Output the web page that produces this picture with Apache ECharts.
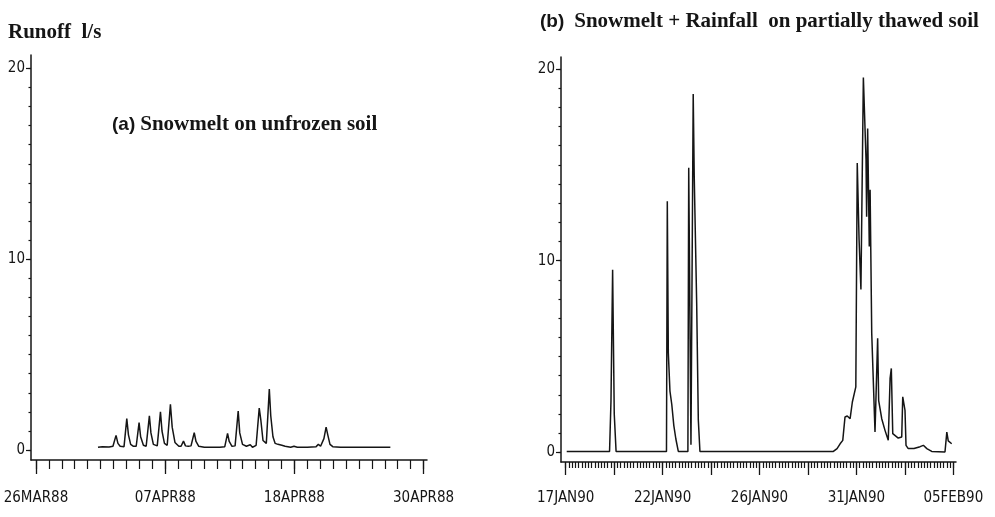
<!DOCTYPE html>
<html><head><meta charset="utf-8">
<script src="https://cdn.jsdelivr.net/npm/echarts@6/dist/echarts.min.js"></script>
<style>html,body{margin:0;padding:0;background:#fff}#c{width:995px;height:517px}</style>
</head><body><div id="c"></div>
<script>
// ---------- Panel (a): Snowmelt on unfrozen soil (days since 26 MAR 1988) ----------
const aTickLabels = ['26MAR88', '07APR88', '18APR88', '30APR88'];
const aTickDays = [0, 35 / 3, 70 / 3, 35];
const aDays = [5.6, 6.0, 6.6, 6.95, 7.23, 7.4, 7.6, 7.95, 8.2, 8.35, 8.55, 8.8, 9.05, 9.31, 9.45, 9.7, 9.95,
  10.24, 10.38, 10.6, 10.95, 11.24, 11.38, 11.6, 11.85, 12.14, 12.3, 12.55, 12.9, 13.1, 13.32, 13.5, 13.75,
  14.0, 14.29, 14.45, 14.7, 15.2, 16.0, 16.3, 16.43, 16.6, 17.05, 17.3, 17.45, 17.7, 17.98, 18.26, 18.4,
  18.65, 19.0, 19.35, 19.55, 19.88, 20.16, 20.3, 20.5, 20.8, 21.07, 21.2, 21.4, 21.6, 21.85, 22.0, 22.2,
  22.5, 23.0, 23.3, 23.6, 24.5, 25.3, 25.5, 25.7, 26.0, 26.2, 26.35, 26.55, 26.8, 27.5, 29.0, 30.5, 32.0];
const aRunoff = [0.15, 0.18, 0.16, 0.2, 0.77, 0.35, 0.2, 0.18, 1.65, 0.8, 0.3, 0.2, 0.2, 1.44, 0.7, 0.25, 0.2,
  1.79, 0.9, 0.3, 0.22, 2.0, 1.0, 0.35, 0.25, 2.4, 1.2, 0.4, 0.2, 0.2, 0.47, 0.22, 0.2,
  0.22, 0.91, 0.45, 0.2, 0.15, 0.15, 0.15, 0.25, 0.15, 0.18, 0.88, 0.45, 0.2, 0.22, 2.05, 0.9,
  0.3, 0.2, 0.28, 0.15, 0.25, 2.2, 1.6, 0.5, 0.35, 3.2, 1.8, 0.7, 0.35, 0.3, 0.35, 0.25,
  0.2, 0.15, 0.2, 0.15, 0.15, 0.18, 0.3, 0.2, 0.6, 1.2, 0.8, 0.3, 0.18, 0.15, 0.15, 0.15, 0.15];

// ---------- Panel (b): Snowmelt + Rainfall on partially thawed soil (days since 17 JAN 1990) ----------
const bTickLabels = ['17JAN90', '22JAN90', '26JAN90', '31JAN90', '05FEB90'];
const bTickDays = [0, 4.75, 9.5, 14.25, 19];
const bDays = [0.05, 2.15, 2.22, 2.30, 2.38, 2.47, 4.94, 4.98, 5.03, 5.11, 5.20, 5.30, 5.40, 5.52,
  5.99, 6.03, 6.14, 6.17, 6.25, 6.30, 6.42, 6.50, 6.58, 13.12, 13.30, 13.45, 13.58, 13.69, 13.80, 13.94,
  14.05, 14.13, 14.22, 14.29, 14.38, 14.47, 14.59, 14.66, 14.72, 14.75, 14.80, 14.88, 14.92, 15.00,
  15.16, 15.29, 15.34, 15.49, 15.65, 15.81, 15.90, 15.96, 16.03, 16.30, 16.47, 16.52, 16.58, 16.63,
  16.68, 16.79, 17.07, 17.37, 17.53, 17.70, 17.94, 18.59, 18.68, 18.75, 18.92];
const bRunoff = [0.05, 0.05, 2.7, 9.53, 2.0, 0.05, 0.05, 13.1, 5.2, 3.2, 2.5, 1.4, 0.7, 0.05,
  0.05, 14.85, 0.4, 0.4, 18.7, 14.4, 7.8, 1.7, 0.05, 0.05, 0.2, 0.45, 0.63, 1.85, 1.9, 1.76,
  2.63, 2.7, 3.42, 15.1, 11.1, 8.5, 19.56, 19.65, 15.3, 12.3, 16.9, 10.75, 13.7, 6.2,
  1.06, 5.95, 2.7, 1.76, 1.15, 0.63, 3.86, 4.38, 0.98, 0.75, 0.8, 2.9, 2.9, 2.2,
  0.37, 0.2, 0.2, 0.3, 0.37, 0.2, 0.05, 0.02, 1.06, 0.6, 0.45];

// ---------- Y axis (Runoff l/s) ----------
const yLabelValues = [0, 10, 20];
const yMinorValues = [];
for (let v = 0; v <= 20; v++) yMinorValues.push(v);

// tick positions for x axes
const aMinor = [];
for (let k = 0; k <= 30; k++) aMinor.push(k * 35 / 30);
const bMajor = [];
for (let k = 0; k <= 8; k++) bMajor.push(k * 19 / 8);
const bMinor = [];
for (let k = 0; k <= 120; k++) bMinor.push(k * 19 / 120);

const INK = '#151515';
const NARROW = '"DejaVu Sans", sans-serif';
const axisLineStyle = { color: INK, width: 1.5 };
const tickFont = { fontFamily: NARROW, fontStyle: 'condensed', fontSize: 15, color: INK };

function labelFor(values, labels) {
  return function (v) {
    for (let i = 0; i < values.length; i++) if (Math.abs(values[i] - v) < 1e-6) return labels[i];
    return '';
  };
}

function xMajor(grid, min, max, ticks, labelVals, labels, tickLen, margin) {
  return {
    gridIndex: grid, type: 'value', position: 'bottom', min: min, max: max,
    axisLine: { show: true, onZero: false, lineStyle: axisLineStyle },
    splitLine: { show: false },
    axisTick: { show: true, customValues: ticks, length: tickLen, lineStyle: { color: INK, width: 1.3 } },
    axisLabel: Object.assign({ show: true, customValues: labelVals, formatter: labelFor(labelVals, labels),
      margin: margin }, tickFont)
  };
}
function xMinor(grid, min, max, ticks, tickLen) {
  return {
    gridIndex: grid, type: 'value', position: 'bottom', min: min, max: max,
    axisLine: { show: false, onZero: false },
    splitLine: { show: false },
    axisTick: { show: true, customValues: ticks, length: tickLen, lineStyle: { color: INK, width: 1.2 } },
    axisLabel: { show: false }
  };
}
function yMajor(grid, min, max) {
  return {
    gridIndex: grid, type: 'value', position: 'left', min: min, max: max,
    axisLine: { show: true, onZero: false, lineStyle: axisLineStyle },
    splitLine: { show: false },
    axisTick: { show: true, customValues: yLabelValues, length: 5, lineStyle: { color: INK, width: 1.2 } },
    axisLabel: Object.assign({ show: true, customValues: yLabelValues, margin: 6 }, tickFont)
  };
}
function yMinor(grid, min, max) {
  return {
    gridIndex: grid, type: 'value', position: 'left', min: min, max: max,
    axisLine: { show: false, onZero: false },
    splitLine: { show: false },
    axisTick: { show: true, customValues: yMinorValues, length: 2.5, lineStyle: { color: INK, width: 1.2 } },
    axisLabel: { show: false }
  };
}

const aData = aDays.map((d, i) => [d, aRunoff[i]]);
const bData = bDays.map((d, i) => [d, bRunoff[i]]);

const chart = echarts.init(document.getElementById('c'), null, { renderer: 'canvas' });
chart.setOption({
  animation: false,
  backgroundColor: '#ffffff',
  title: [
    { text: 'Runoff  l/s', left: 8, top: 22, padding: 0,
      textStyle: { fontFamily: '"Liberation Serif", "DejaVu Serif", serif', fontWeight: 'bold', fontSize: 21, color: INK } },
    { text: '{a|(a)} {b|Snowmelt on unfrozen soil}', left: 112, top: 114, padding: 0,
      textStyle: { rich: {
        a: { fontFamily: '"Liberation Sans", Arial, sans-serif', fontSize: 19, color: INK },
        b: { fontFamily: '"Liberation Serif", "DejaVu Serif", serif', fontWeight: 'bold', fontSize: 21, color: INK } } } },
    { text: '{a|(b)}  {b|Snowmelt + Rainfall  on partially thawed soil}', left: 540, top: 11, padding: 0,
      textStyle: { rich: {
        a: { fontFamily: '"Liberation Sans", Arial, sans-serif', fontSize: 19, color: INK },
        b: { fontFamily: '"Liberation Serif", "DejaVu Serif", serif', fontWeight: 'bold', fontSize: 21, color: INK } } } }
  ],
  grid: [
    { left: 31, top: 55, width: 396, height: 405, containLabel: false, outerBoundsMode: 'none' },
    { left: 561, top: 57, width: 395, height: 405, containLabel: false, outerBoundsMode: 'none' }
  ],
  xAxis: [
    xMajor(0, -0.45, 35.31, aTickDays, aTickDays, aTickLabels, 14, 31),
    xMinor(0, -0.45, 35.31, aMinor, 9),
    xMajor(1, -0.23, 19.13, bMajor, bTickDays, bTickLabels, 13, 29),
    xMinor(1, -0.23, 19.13, bMinor, 6)
  ],
  yAxis: [
    yMajor(0, -0.52, 20.70),
    yMinor(0, -0.52, 20.70),
    yMajor(1, -0.5, 20.63),
    yMinor(1, -0.5, 20.63)
  ],
  series: [
    { name: 'Snowmelt on unfrozen soil', type: 'line', xAxisIndex: 0, yAxisIndex: 0, data: aData,
      showSymbol: false, symbol: 'none', lineStyle: { color: INK, width: 1.5 } },
    { name: 'Snowmelt + Rainfall on partially thawed soil', type: 'line', xAxisIndex: 2, yAxisIndex: 2, data: bData,
      showSymbol: false, symbol: 'none', lineStyle: { color: INK, width: 1.5 } }
  ]
});
</script>
</body></html>
